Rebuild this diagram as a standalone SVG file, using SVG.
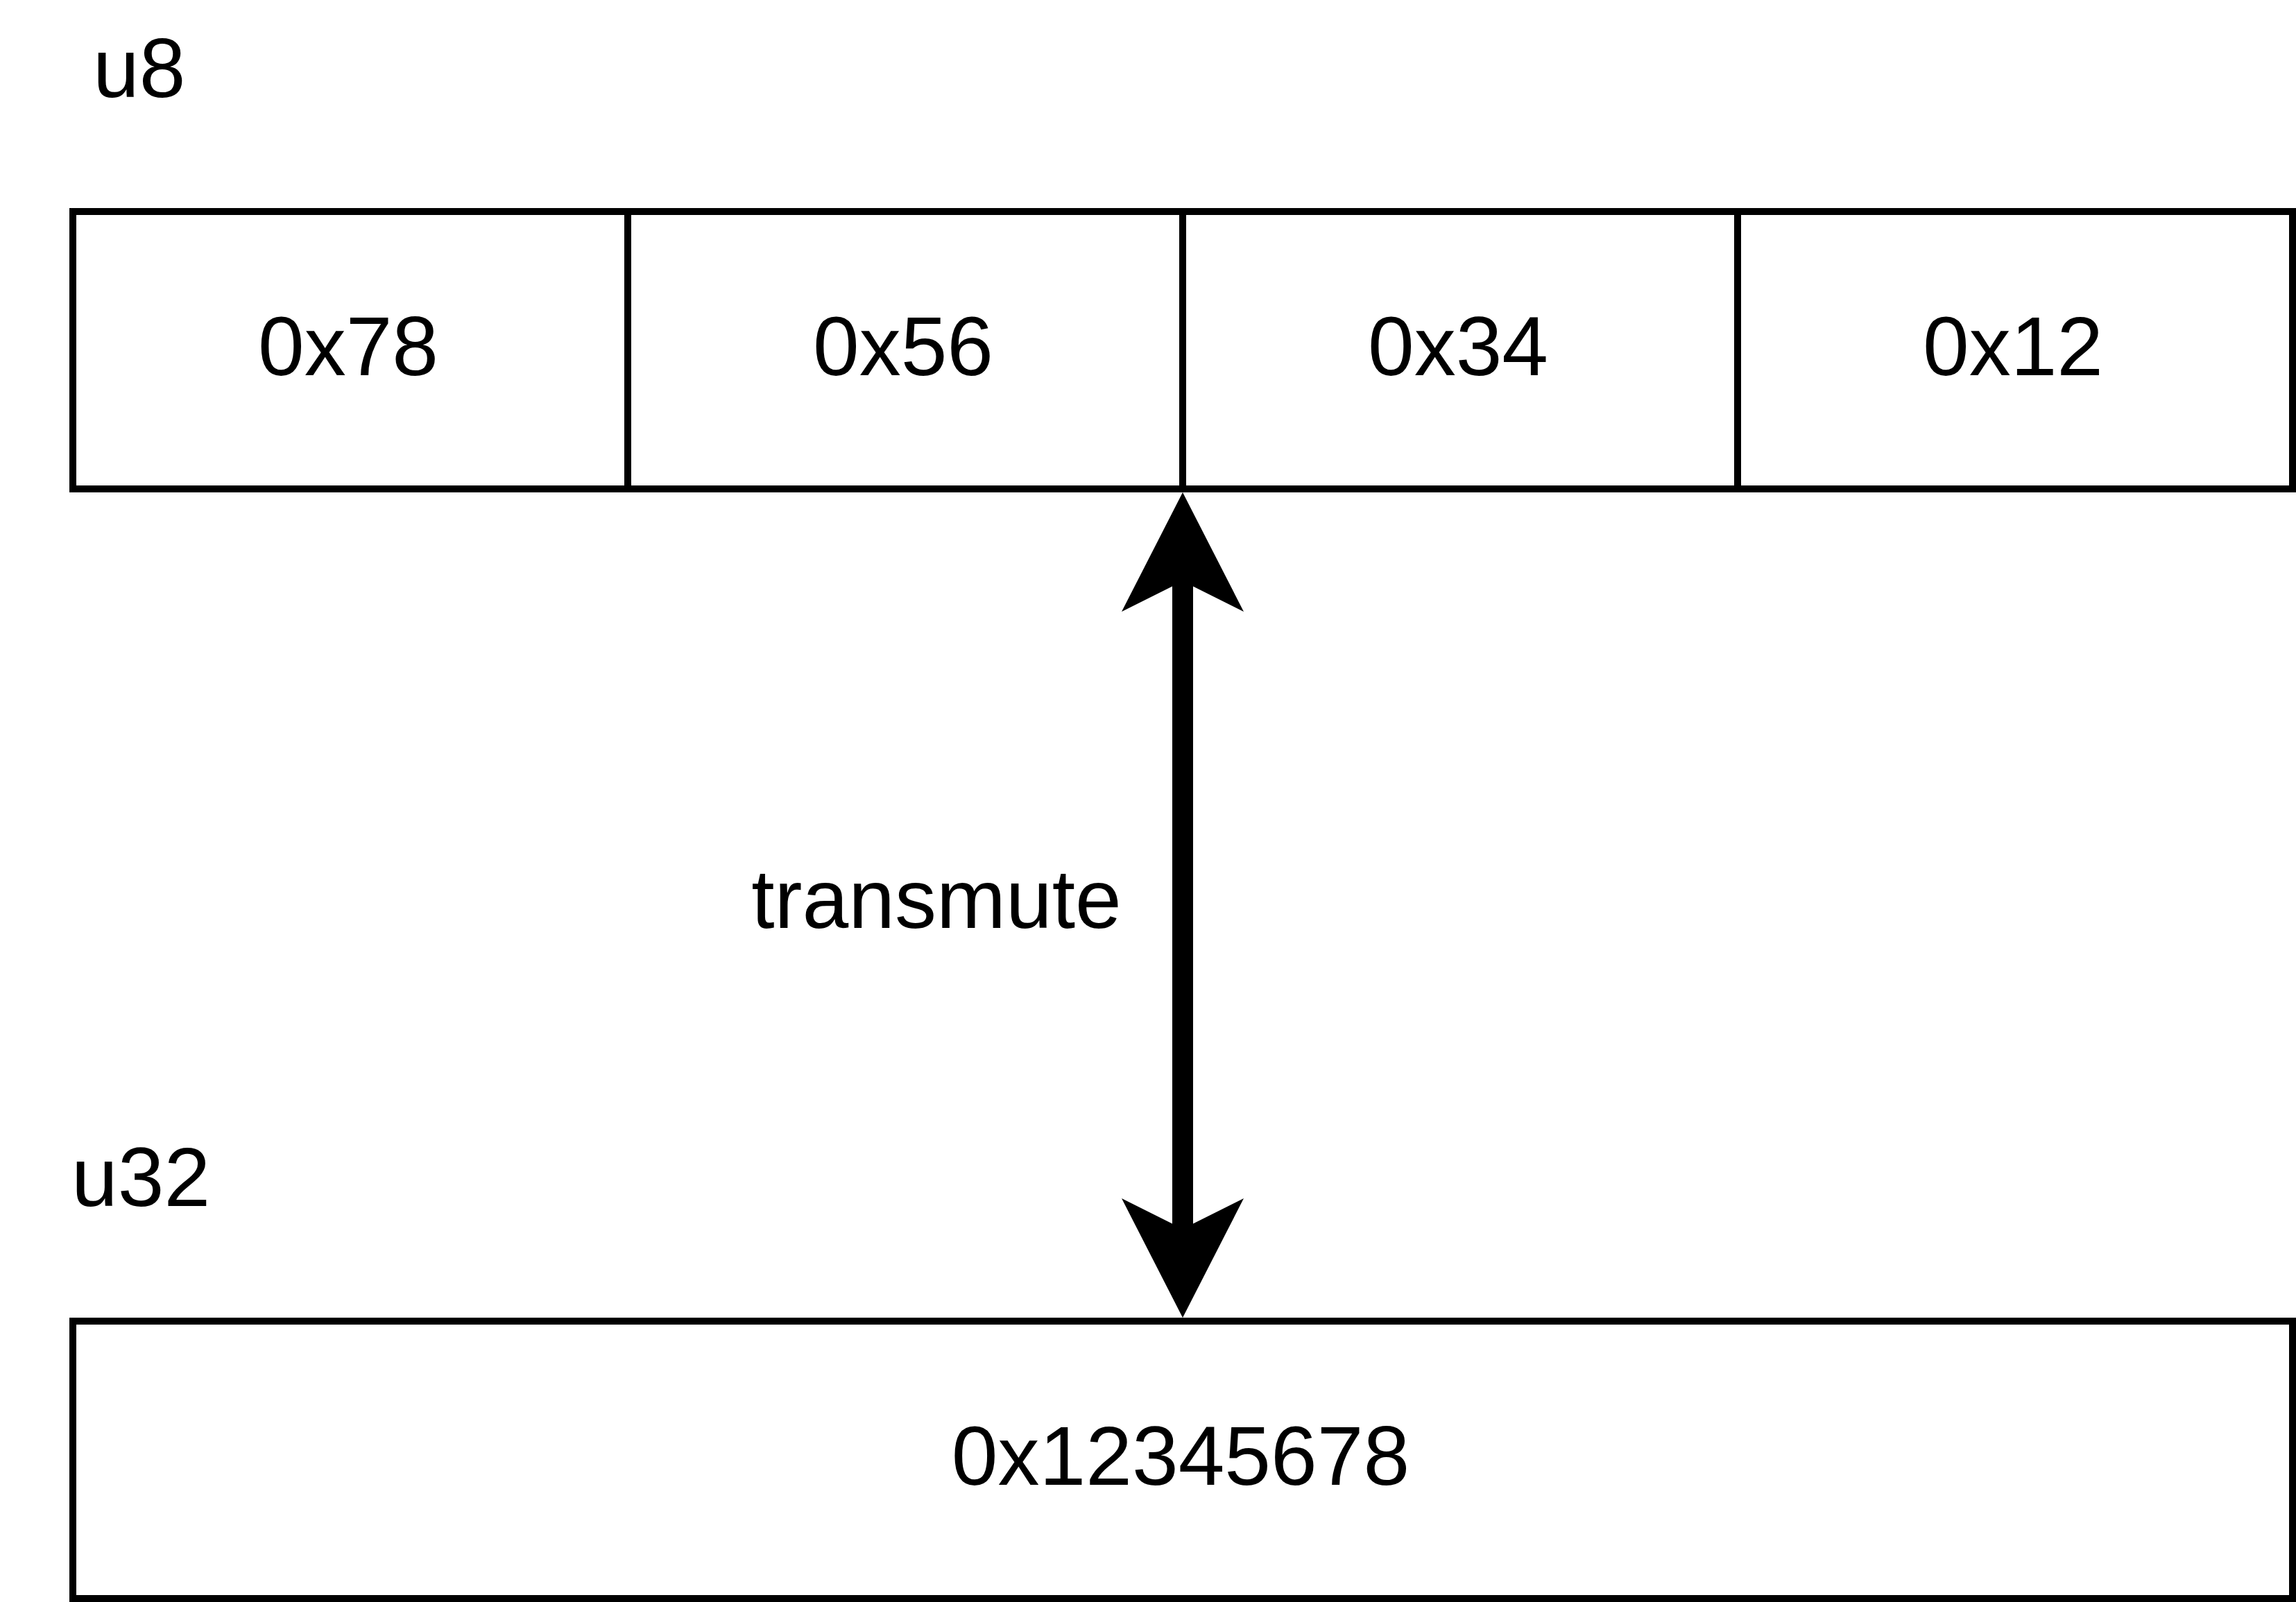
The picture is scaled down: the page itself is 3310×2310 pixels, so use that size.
<svg xmlns="http://www.w3.org/2000/svg" width="3310" height="2310" viewBox="0 0 3310 2310">
<style>
.cell{fill:#fff;stroke:#000;stroke-width:10}
.t{font-family:"Liberation Sans",Arial,sans-serif;font-size:120px;fill:#000}
.c{text-anchor:middle}
</style>
<defs>
<marker id="head" markerUnits="userSpaceOnUse" markerWidth="400" markerHeight="300" refX="0" refY="0" orient="auto-start-reverse" overflow="visible">
<path d="M120,0 L-52,-88 L-8,0 L-52,88 Z" fill="#000"/>
</marker>
</defs>
<rect width="3310" height="2310" fill="#fff"/>
<g id="label-u8"><text class="t" x="134" y="140">u8</text></g>
<g id="label-u32"><text class="t" x="103" y="1739">u32</text></g>
<g id="byte0"><rect class="cell" x="105" y="305" width="800" height="400"/><text class="t c" x="502" y="541">0x78</text></g>
<g id="byte1"><rect class="cell" x="905" y="305" width="800" height="400"/><text class="t c" x="1302" y="541">0x56</text></g>
<g id="byte2"><rect class="cell" x="1705" y="305" width="800" height="400"/><text class="t c" x="2102" y="541">0x34</text></g>
<g id="byte3"><rect class="cell" x="2505" y="305" width="800" height="400"/><text class="t c" x="2902" y="541">0x12</text></g>
<g id="u32"><rect class="cell" x="105" y="1905" width="3200" height="400"/><text class="t c" x="1702" y="2141">0x12345678</text></g>
<g id="connectors">
<line x1="1705" y1="830" x2="1705" y2="1780" stroke="#000" stroke-width="30" marker-start="url(#head)" marker-end="url(#head)"/>
<text class="t c" x="1350" y="1338">transmute</text>
</g>
</svg>
